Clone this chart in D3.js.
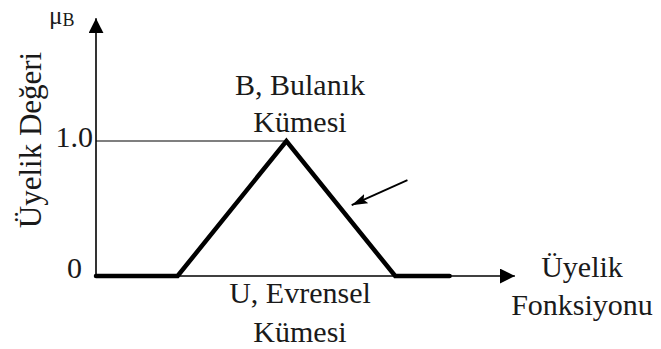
<!DOCTYPE html>
<html>
<head>
<meta charset="utf-8">
<script src="https://cdn.jsdelivr.net/npm/d3@7"></script>
<style>
  body { margin: 0; background: #fff; }
</style>
</head>
<body>
<div id="chart"></div>
<script>
// Universe (U) positions and membership degrees of the fuzzy set B
const universe = [0, 3, 7, 11, 13];
const membership = [0, 0, 1, 0, 0];

// Axis extents (in data units)
const xAxisEnd = 15.4;
const yAxisEnd = 1.91;

// Tick labels on the membership axis
const yTicks = [0, 1];
const yTickLabels = ["0", "1.0"];

// Pointer arrow towards the falling edge (data units)
const pointerFrom = [11.45, 0.71];
const pointerTo = [9.4, 0.525];

/*******************************/
/*    Declare the constants    */
/*******************************/
const width = 661;
const height = 349;
const serif = "'Liberation Serif', 'Times New Roman', 'DejaVu Serif', serif";

const svg = d3.select("#chart")
  .append("svg")
    .attr("width", width)
    .attr("height", height)
    .attr("viewBox", `0 0 ${width} ${height}`)
    .attr("font-family", serif);

/****************************/
/*    Declare the scales    */
/****************************/
const xScale = d3.scaleLinear()
  .domain([0, 16])
  .range([96, 96 + 16 * 27.2]);

const yScale = d3.scaleLinear()
  .domain([0, 1])
  .range([276, 141]);

// Arrow markers
const defs = svg.append("defs");
defs.append("marker")
    .attr("id", "axis-arrow")
    .attr("viewBox", "0 0 10 10")
    .attr("refX", 10)
    .attr("refY", 5)
    .attr("markerWidth", 15)
    .attr("markerHeight", 15)
    .attr("markerUnits", "userSpaceOnUse")
    .attr("orient", "auto")
  .append("path")
    .attr("d", "M0,0 L10,5 L0,10 Z")
    .attr("fill", "#000");

defs.append("marker")
    .attr("id", "pointer-arrow")
    .attr("viewBox", "0 0 16 10")
    .attr("refX", 16)
    .attr("refY", 5)
    .attr("markerWidth", 16)
    .attr("markerHeight", 10)
    .attr("markerUnits", "userSpaceOnUse")
    .attr("orient", "auto")
  .append("path")
    .attr("d", "M0,0 L16,5 L0,10 L3,5 Z")
    .attr("fill", "#000");

/*******************************/
/*    Axes                     */
/*******************************/
svg.append("line")
    .attr("x1", xScale(0))
    .attr("y1", yScale(0))
    .attr("x2", xScale(0))
    .attr("y2", yScale(yAxisEnd))
    .attr("stroke", "#000")
    .attr("stroke-width", 1.6)
    .attr("marker-end", "url(#axis-arrow)");

svg.append("line")
    .attr("x1", xScale(0))
    .attr("y1", yScale(0))
    .attr("x2", xScale(xAxisEnd))
    .attr("y2", yScale(0))
    .attr("stroke", "#000")
    .attr("stroke-width", 1.6)
    .attr("marker-end", "url(#axis-arrow)");

// Guide line at membership 1.0
const peakIndex = membership.indexOf(1);
svg.append("line")
    .attr("x1", xScale(0))
    .attr("y1", yScale(1))
    .attr("x2", xScale(universe[peakIndex]))
    .attr("y2", yScale(1))
    .attr("stroke", "#000")
    .attr("stroke-width", 1.2);

// Tick labels
const tickPos = [
  {x: 82, dy: 2},
  {x: 93, dy: 6}
];
svg.selectAll(".y-tick")
  .data(yTicks)
  .join("text")
    .attr("class", "y-tick")
    .attr("x", (d, i) => tickPos[i].x)
    .attr("y", (d, i) => yScale(d) + tickPos[i].dy)
    .attr("text-anchor", "end")
    .attr("fill", "#1a1a1a")
    .style("font-size", "30px")
    .text((d, i) => yTickLabels[i]);

/*******************************/
/*    Membership function      */
/*******************************/
const line = d3.line()
  .x((d, i) => xScale(universe[i]))
  .y(d => yScale(d));

svg.append("path")
    .attr("d", line(membership))
    .attr("fill", "none")
    .attr("stroke", "#000")
    .attr("stroke-width", 4.5)
    .attr("stroke-linejoin", "miter")
    .attr("stroke-linecap", "round");

// Pointer arrow
svg.append("line")
    .attr("x1", xScale(pointerFrom[0]))
    .attr("y1", yScale(pointerFrom[1]))
    .attr("x2", xScale(pointerTo[0]))
    .attr("y2", yScale(pointerTo[1]))
    .attr("stroke", "#000")
    .attr("stroke-width", 1.8)
    .attr("marker-end", "url(#pointer-arrow)");

/*******************************/
/*    Labels                   */
/*******************************/
// mu_B
const mu = svg.append("text")
    .attr("x", 49)
    .attr("y", 24)
    .attr("fill", "#1a1a1a");
mu.append("tspan").text("μ").style("font-size", "25px");
mu.append("tspan").text("B").attr("dy", 2).style("font-size", "18px");

// Rotated y label
svg.append("text")
    .attr("transform", "translate(41, 140) rotate(-90)")
    .attr("text-anchor", "middle")
    .attr("fill", "#1a1a1a")
    .style("font-size", "31px")
    .text("Üyelik Değeri");

const blockLabel = (lines, cx, y0, gap) => {
  svg.append("g")
    .selectAll("text")
    .data(lines)
    .join("text")
      .attr("x", cx)
      .attr("y", (d, i) => y0 + i * gap)
      .attr("text-anchor", "middle")
      .attr("fill", "#1a1a1a")
      .style("font-size", "30px")
      .text(d => d);
};

blockLabel(["B, Bulanık", "Kümesi"], 300, 95, 37);
blockLabel(["U, Evrensel", "Kümesi"], 300, 303, 39);
blockLabel(["Üyelik", "Fonksiyonu"], 582, 277, 38);
</script>
</body>
</html>
